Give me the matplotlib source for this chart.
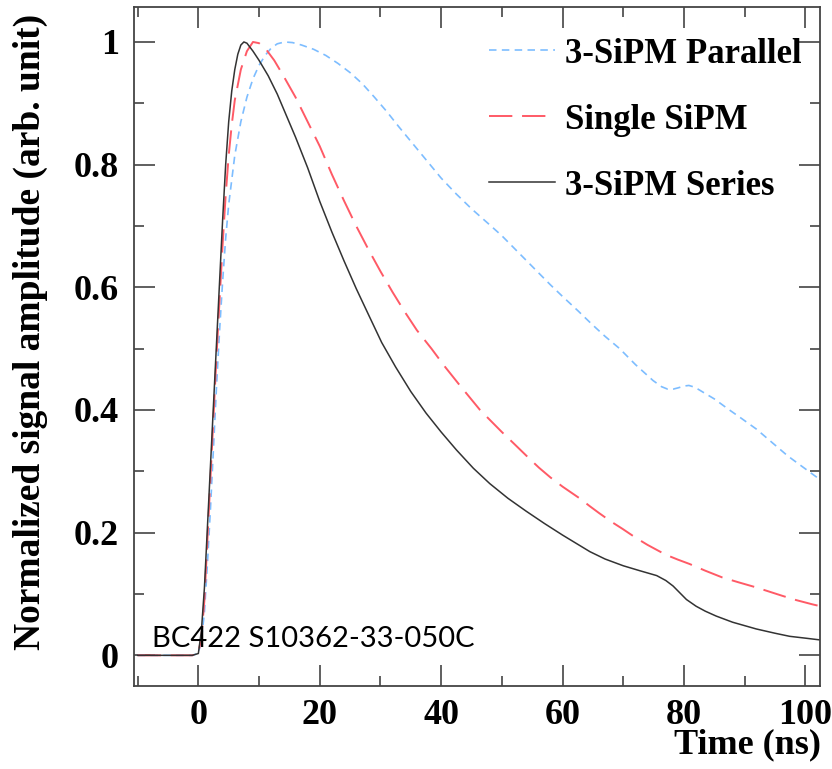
import matplotlib
matplotlib.use("Agg")
import matplotlib.pyplot as plt
from matplotlib.ticker import MultipleLocator, FuncFormatter

# dados (tempo em ns, amplitude normalizada)
t_series = [-10, -1, 0, 0.5, 1, 1.5, 2, 2.5, 3, 3.5, 4, 4.5, 5, 5.5, 6, 6.5, 7, 7.5,
            8, 9, 10, 11.5, 13, 14.5, 16, 18, 20, 22, 24, 26, 28, 30.2, 32.5, 35,
            37.5, 40, 42.5, 45.3, 48, 51, 54, 57, 60, 62.5, 64.5, 67, 70, 72.7,
            75.5, 77, 78.2, 79.5, 80.4, 82, 83.5, 85.3, 88, 91.9, 95, 97.4, 100,
            102.5]
v_series = [0, 0, 0.003, 0.04, 0.11, 0.21, 0.31, 0.41, 0.51, 0.61, 0.71, 0.80, 0.87,
            0.92, 0.955, 0.98, 0.995, 1.0, 0.998, 0.985, 0.97, 0.945, 0.915, 0.88,
            0.845, 0.795, 0.74, 0.69, 0.643, 0.598, 0.556, 0.51, 0.47, 0.43, 0.395,
            0.364, 0.335, 0.305, 0.28, 0.256, 0.235, 0.215, 0.196, 0.181, 0.169,
            0.157, 0.146, 0.138, 0.130, 0.122, 0.113, 0.100, 0.091, 0.080, 0.072,
            0.064, 0.054, 0.043, 0.036, 0.031, 0.028, 0.025]

t_single = [-10, -1, 0, 0.5, 1, 1.5, 2, 2.5, 3, 3.5, 4, 4.5, 5, 5.5, 6, 7, 8, 9, 10,
            11, 12.5, 14, 16, 18, 20, 22, 24, 26, 28, 30, 32, 34, 36, 38.4, 40.5,
            43, 46.4, 50, 52, 54.6, 56.1, 58, 60, 62.8, 64.5, 66, 68, 69.9, 72, 74,
            77, 79, 80.9, 83.5, 86.3, 89, 91.8, 94, 96.2, 98.5, 101.2, 102.5]
v_single = [0, 0, 0.003, 0.03, 0.09, 0.19, 0.29, 0.39, 0.49, 0.58, 0.67, 0.75, 0.815,
            0.865, 0.905, 0.955, 0.985, 1.0, 0.998, 0.99, 0.97, 0.945, 0.91, 0.87,
            0.83, 0.784, 0.741, 0.70, 0.662, 0.626, 0.592, 0.56, 0.53, 0.50, 0.472,
            0.441, 0.400, 0.364, 0.345, 0.320, 0.306, 0.290, 0.275, 0.256, 0.243,
            0.232, 0.218, 0.206, 0.192, 0.180, 0.164, 0.156, 0.149, 0.138, 0.127,
            0.119, 0.111, 0.104, 0.097, 0.090, 0.083, 0.080]

t_parallel = [-10, -1, 0, 0.5, 1, 1.5, 2, 2.5, 3, 3.5, 4, 4.5, 5, 6, 7, 8, 9, 10, 11,
              12, 13, 14.2, 15.5, 17, 19, 21, 23, 25, 27, 29, 31, 33, 35, 37.5, 40,
              42.5, 45, 48.2, 50, 52, 54, 56, 58, 60, 62.5, 64.8, 67, 69.4, 72, 74.9,
              76.3, 77.3, 78.2, 79, 80, 80.8, 81.8, 82.8, 85, 87.2, 89.5, 91.9, 94.5,
              97.1, 99.3, 101.5, 102.5]
v_parallel = [0, 0, 0.003, 0.025, 0.07, 0.15, 0.24, 0.34, 0.44, 0.53, 0.61, 0.68, 0.735,
              0.815, 0.87, 0.91, 0.94, 0.962, 0.978, 0.99, 0.997, 1.0, 0.999, 0.995,
              0.988, 0.978, 0.965, 0.95, 0.932, 0.91, 0.887, 0.862, 0.838, 0.808,
              0.778, 0.752, 0.728, 0.70, 0.684, 0.664, 0.644, 0.624, 0.604, 0.585,
              0.562, 0.54, 0.52, 0.50, 0.474, 0.448, 0.438, 0.434, 0.434, 0.436,
              0.439, 0.440, 0.437, 0.431, 0.418, 0.402, 0.386, 0.369, 0.347, 0.325,
              0.309, 0.293, 0.286]

labels = ["3-SiPM Parallel", "Single SiPM", "3-SiPM Series"]

serif = "Liberation Serif"

fig = plt.figure(figsize=(8.32, 7.69), dpi=100)
ax = fig.add_axes([134 / 832, 1 - 686 / 769, 686 / 832, 679 / 769])

l1, = ax.plot(t_parallel, v_parallel, color="#7dbdff", lw=1.2)
l1.set_dashes((4.5, 3.2))
l2, = ax.plot(t_single, v_single, color="#ff5a66", lw=1.4)
l2.set_dashes((12, 5))
l3, = ax.plot(t_series, v_series, color="#333333", lw=1.1)

ax.set_xlim(-10.6, 102.4)
ax.set_ylim(-0.05, 1.057)

ax.xaxis.set_major_locator(MultipleLocator(20))
ax.xaxis.set_minor_locator(MultipleLocator(10))
ax.yaxis.set_major_locator(MultipleLocator(0.2))
ax.yaxis.set_minor_locator(MultipleLocator(0.1))
ax.yaxis.set_major_formatter(FuncFormatter(lambda v, p: f"{v:g}"))

ax.tick_params(which="both", direction="in", top=True, right=True, width=1.2,
               color="#444444")
ax.tick_params(which="major", length=15)
ax.tick_params(which="minor", length=7.5)
ax.tick_params(axis="x", which="major", pad=9)
ax.tick_params(axis="y", which="major", pad=11)
for lab in ax.get_xticklabels() + ax.get_yticklabels():
    lab.set_fontfamily(serif)
    lab.set_fontweight("bold")
    lab.set_fontsize(26)
for s in ax.spines.values():
    s.set_linewidth(1.3)
    s.set_color("#444444")

fig.text(30 / 832, 1 - 14 / 769, "Normalized signal amplitude (arb. unit)",
         rotation=90, ha="center", va="top", family=serif, weight="bold",
         fontsize=27)
fig.text(821 / 832, 1 - 745 / 769, "Time (ns)", ha="right", va="center",
         family=serif, weight="bold", fontsize=26)

ax.text(0.026, 0.057, "BC422 S10362-33-050C", transform=ax.transAxes,
        family="Lato", fontsize=21, va="baseline", ha="left")

leg = ax.legend([l1, l2, l3], labels, loc="upper left",
                bbox_to_anchor=(0.517, 0.955), frameon=False, borderpad=0,
                borderaxespad=0, handlelength=1.9, handletextpad=0.3,
                labelspacing=0.95, prop={"family": serif, "weight": "bold",
                                          "size": 25})

fig.savefig("out.png", dpi=100)
